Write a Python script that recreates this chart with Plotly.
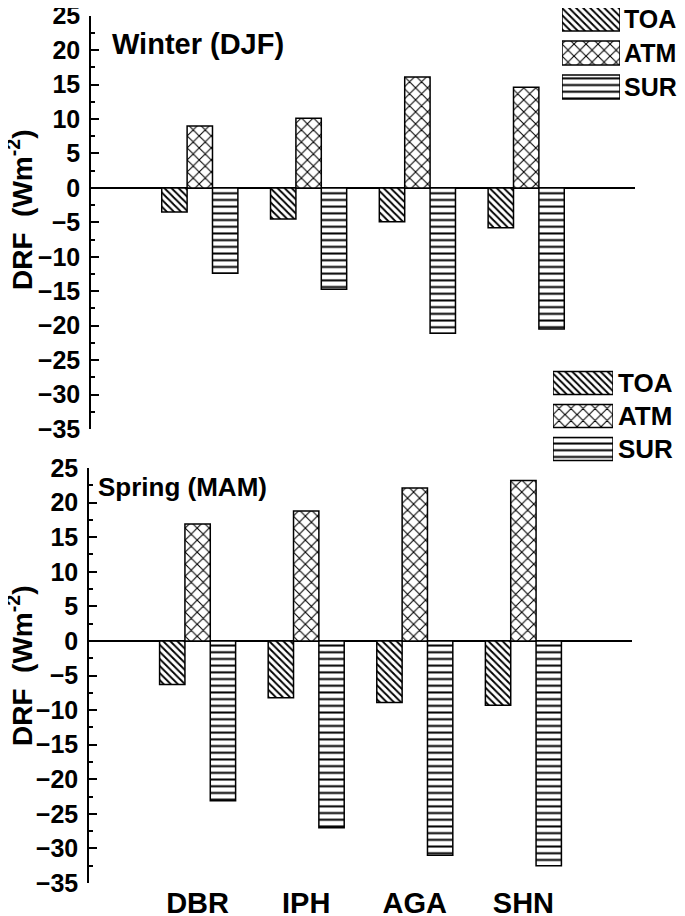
import plotly.graph_objects as go

# sites and seasonal direct radiative forcing (W m-2)
sites = ["DBR", "IPH", "AGA", "SHN"]
series = ["TOA", "ATM", "SUR"]

winter_toa = [-3.5, -4.5, -4.9, -5.8]
winter_atm = [9.0, 10.1, 16.1, 14.6]
winter_sur = [-12.4, -14.7, -21.1, -20.5]

spring_toa = [-6.3, -8.2, -8.9, -9.3]
spring_atm = [16.9, 18.8, 22.1, 23.2]
spring_sur = [-23.1, -27.0, -31.0, -32.5]

legend_len = [1, 1, 1]

FONT = "Liberation Sans, Arial, sans-serif"
# the page body has an 8px margin, so the figure is drawn 8px in from the corner
OFF = 8
W, H = 685 - OFF, 916 - OFF

# hatch styles for each series
patterns = {
    "TOA": dict(shape="\\", size=5, solidity=0.38),
    "ATM": dict(shape="x", size=8.5, solidity=0.24),
    "SUR": dict(shape="-", size=6.7, solidity=0.3),
}


def px_x(p):
    # page pixel -> paper fraction
    return min(max((p - OFF) / W, 0), 1)


def px_y(p):
    return min(max(1 - (p - OFF) / H, 0), 1)


def bar_trace(name, values, xa, ya):
    pat = patterns[name]
    return go.Bar(
        x=sites, y=values, name=name, xaxis=xa, yaxis=ya, showlegend=False,
        marker=dict(
            color="white",
            line=dict(color="black", width=1.5),
            pattern=dict(shape=pat["shape"], size=pat["size"], solidity=pat["solidity"],
                         fgcolor="black", bgcolor="white", fillmode="replace"),
        ),
    )


def legend_trace(xa, ya):
    return go.Bar(
        x=legend_len, y=series, orientation="h", xaxis=xa, yaxis=ya, showlegend=False,
        marker=dict(
            color="white",
            line=dict(color="black", width=1.5),
            pattern=dict(shape=[patterns[s]["shape"] for s in series],
                         size=[patterns[s]["size"] for s in series],
                         solidity=[patterns[s]["solidity"] for s in series],
                         fgcolor="black", bgcolor="white", fillmode="replace"),
        ),
    )


fig = go.Figure()
for name, vals in zip(series, [winter_toa, winter_atm, winter_sur]):
    fig.add_trace(bar_trace(name, vals, "x", "y"))
for name, vals in zip(series, [spring_toa, spring_atm, spring_sur]):
    fig.add_trace(bar_trace(name, vals, "x2", "y2"))
fig.add_trace(legend_trace("x3", "y3"))
fig.add_trace(legend_trace("x4", "y4"))

yax = dict(
    range=[-35, 25], dtick=5, tick0=0, showline=True, linecolor="black", linewidth=1.5,
    ticks="inside", ticklen=8, tickwidth=1.5, tickcolor="black",
    minor=dict(ticks="inside", ticklen=4, tickwidth=1.5, tickcolor="black", dtick=2.5),
    showgrid=False, zeroline=True, zerolinecolor="black", zerolinewidth=1.5,
    tickfont=dict(family=FONT, size=25, color="black", weight="bold"),
    ticklabelstandoff=4, automargin=False, ticklabeloverflow="allow",
)
xax = dict(range=[-1, 4], showline=False, showgrid=False, zeroline=False, ticks="",
           automargin=False, ticklabeloverflow="allow")

leg_x = dict(range=[0, 1], visible=False, fixedrange=True, automargin=False)
leg_y = dict(side="right", showline=False, showgrid=False,
             zeroline=False, ticks="", ticklabelstandoff=3, automargin=False,
             ticklabeloverflow="allow",
             tickfont=dict(family=FONT, size=25, color="black", weight="bold"))

fig.update_layout(
    width=W, height=H,
    margin=dict(l=0, r=0, t=0, b=0, autoexpand=False),
    paper_bgcolor="white", plot_bgcolor="rgba(0,0,0,0)",
    barmode="group", bargap=0.3, bargroupgap=0,
    xaxis=dict(xax, domain=[px_x(91), px_x(635)], anchor="y", showticklabels=False),
    yaxis=dict(yax, domain=[px_y(429), px_y(15.7)], anchor="x"),
    xaxis2=dict(xax, domain=[px_x(89), px_x(632)], anchor="y2", ticklabelstandoff=0,
                tickfont=dict(family=FONT, size=29, color="black", weight="bold")),
    yaxis2=dict(yax, domain=[px_y(883), px_y(468)], anchor="x2"),
    xaxis3=dict(leg_x, domain=[px_x(562), px_x(620)], anchor="y3"),
    # rows 34px apart, first row centred 11px below the top of the domain
    yaxis3=dict(leg_y, domain=[px_y(104), px_y(8)], anchor="x3",
                range=[-11 / 34 + 96 / 34, -11 / 34]),
    xaxis4=dict(leg_x, domain=[px_x(553), px_x(613)], anchor="y4"),
    yaxis4=dict(leg_y, domain=[px_y(465.5), px_y(366.5)], anchor="x4", range=[2.5, -0.5],
                ticklabelstandoff=4, tickfont=dict(family=FONT, size=26, color="black", weight="bold")),
)

title_font = dict(family=FONT, size=28, color="black", weight="bold")
for ty in [210, 666]:
    fig.add_annotation(text="DRF  (Wm<sup>-2</sup>)", x=px_x(20), y=px_y(ty),
                       xref="paper", yref="paper", xanchor="center", yanchor="middle",
                       textangle=-90, showarrow=False, font=title_font)
fig.add_annotation(text="Winter (DJF)", x=px_x(110), y=px_y(44), xref="paper", yref="paper",
                   xanchor="left", yanchor="middle", showarrow=False,
                   font=dict(family=FONT, size=29, color="black", weight="bold"))
fig.add_annotation(text="Spring (MAM)", x=px_x(96), y=px_y(487), xref="paper", yref="paper",
                   xanchor="left", yanchor="middle", showarrow=False,
                   font=dict(family=FONT, size=26, color="black", weight="bold"))

fig.write_html("out.html")
